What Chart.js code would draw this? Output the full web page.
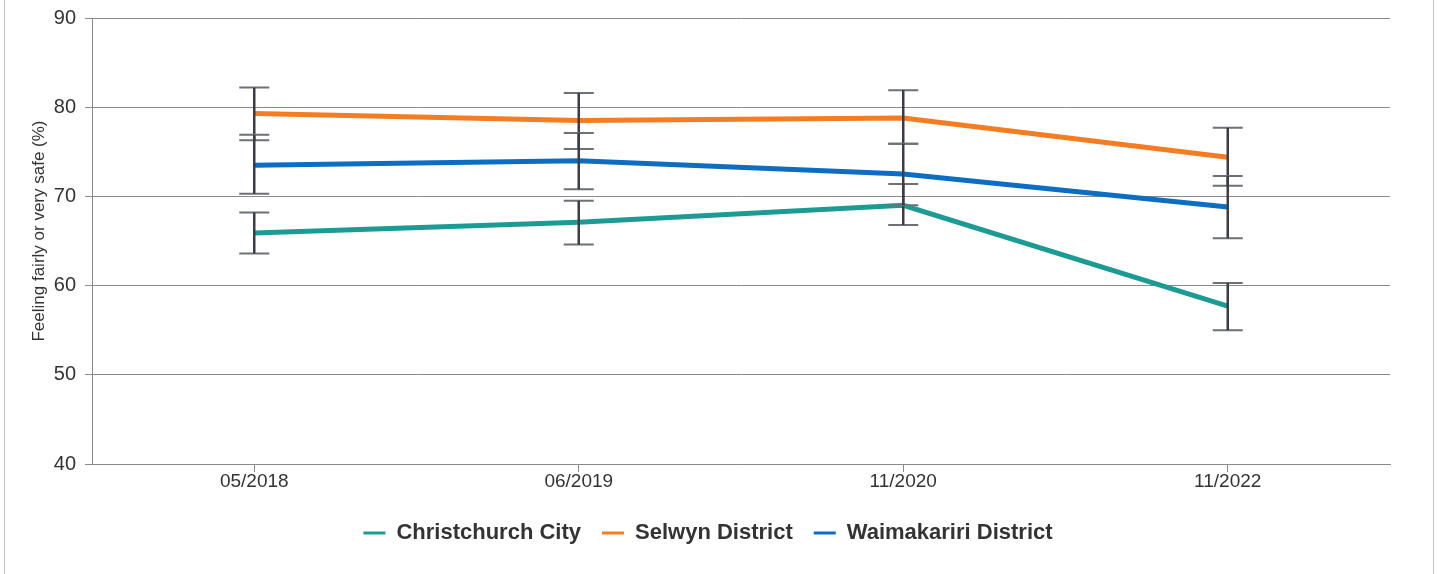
<!DOCTYPE html>
<html>
<head>
<meta charset="utf-8">
<script src="https://cdn.jsdelivr.net/npm/chart.js@4.4.1/dist/chart.umd.min.js"></script>
<style>
  html, body { margin: 0; padding: 0; background: #fff; }
  #wrap { position: relative; width: 1438px; height: 574px; }
  #frame {
    position: absolute; left: 4px; top: 0; width: 1428px; height: 574px;
    border-left: 1px solid #c4c4c4; border-right: 1px solid #c4c4c4;
    pointer-events: none;
  }
</style>
</head>
<body>
<div id="wrap">
  <canvas id="safetyChart" width="1438" height="574"></canvas>
  <div id="frame"></div>
</div>
<script>
// ====================================
// DATA
// ====================================
const surveyDates = ["05/2018", "06/2019", "11/2020", "11/2022"];

const christchurch = [65.9, 67.1, 69.0, 57.7];
const christchurchLow = [63.6, 64.6, 66.8, 55.0];
const christchurchHigh = [68.2, 69.5, 71.4, 60.3];

const selwyn = [79.3, 78.5, 78.8, 74.4];
const selwynLow = [76.3, 75.3, 75.9, 71.2];
const selwynHigh = [82.2, 81.6, 81.9, 77.7];

const waimakariri = [73.5, 74.0, 72.5, 68.8];
const waimakaririLow = [70.3, 70.8, 69.0, 65.3];
const waimakaririHigh = [76.9, 77.1, 75.9, 72.3];

const yTicks = [40, 50, 60, 70, 80, 90];
const yTitle = "Feeling fairly or very safe (%)";

const FONT = "'Liberation Sans', Arial, sans-serif";

// ====================================
// ERROR BARS PLUGIN
// ====================================
const errorBars = {
  id: "errorBars",
  afterDatasetsDraw(chart) {
    const ctx = chart.ctx;
    const xScale = chart.scales.x;
    const yScale = chart.scales.y;
    chart.data.datasets.forEach(function (ds) {
      ds.data.forEach(function (v, i) {
        const x = xScale.getPixelForValue(i);
        const yLo = yScale.getPixelForValue(ds.errLow[i]);
        const yHi = yScale.getPixelForValue(ds.errHigh[i]);
        ctx.save();
        ctx.strokeStyle = "#6e7078";
        ctx.lineWidth = 2;
        ctx.beginPath();
        ctx.moveTo(x - 15, yHi);
        ctx.lineTo(x + 15, yHi);
        ctx.moveTo(x - 15, yLo);
        ctx.lineTo(x + 15, yLo);
        ctx.stroke();
        ctx.strokeStyle = "#3a3d46";
        ctx.lineWidth = 2.5;
        ctx.beginPath();
        ctx.moveTo(x, yHi);
        ctx.lineTo(x, yLo);
        ctx.stroke();
        ctx.restore();
      });
    });
  },
};

// Y axis title, drawn a bit above the axis middle like the original
const axisTitle = {
  id: "axisTitle",
  afterDraw(chart) {
    const ctx = chart.ctx;
    const area = chart.chartArea;
    ctx.save();
    ctx.translate(39, (area.top + area.bottom) / 2 - 10);
    ctx.rotate(-Math.PI / 2);
    ctx.fillStyle = "#333333";
    ctx.font = "17px " + FONT;
    ctx.textAlign = "center";
    ctx.textBaseline = "middle";
    ctx.fillText(yTitle, 0, 0);
    ctx.restore();
  },
};

// ====================================
// CHART
// ====================================
const ctx = document.getElementById("safetyChart").getContext("2d");

new Chart(ctx, {
  type: "line",
  data: {
    labels: surveyDates,
    datasets: [
      {
        label: "Christchurch City",
        data: christchurch,
        errLow: christchurchLow,
        errHigh: christchurchHigh,
        borderColor: "#1c9b95",
        backgroundColor: "#1c9b95",
      },
      {
        label: "Selwyn District",
        data: selwyn,
        errLow: selwynLow,
        errHigh: selwynHigh,
        borderColor: "#f47c22",
        backgroundColor: "#f47c22",
      },
      {
        label: "Waimakariri District",
        data: waimakariri,
        errLow: waimakaririLow,
        errHigh: waimakaririHigh,
        borderColor: "#0c6dc2",
        backgroundColor: "#0c6dc2",
      },
    ],
  },
  options: {
    responsive: false,
    animation: false,
    devicePixelRatio: 1,
    elements: {
      line: { borderWidth: 5, tension: 0 },
      point: { radius: 0 },
    },
    layout: {
      padding: { left: 26, right: 48, top: 18, bottom: 20 },
    },
    plugins: {
      tooltip: { enabled: false },
      legend: {
        position: "bottom",
        labels: {
          color: "#333333",
          font: { family: FONT, size: 22, weight: "bold" },
          boxWidth: 22,
          boxHeight: 3,
          padding: 21,
          generateLabels: function (chart) {
            return Chart.defaults.plugins.legend.labels
              .generateLabels(chart)
              .map(function (item) {
                item.lineWidth = 0;
                return item;
              });
          },
        },
      },
    },
    scales: {
      x: {
        offset: true,
        afterFit: function (scale) {
          scale.height = 37;
        },
        grid: {
          drawOnChartArea: false,
          drawTicks: true,
          tickLength: 8,
          color: "#8a8a8a",
        },
        border: { color: "#8a8a8a" },
        ticks: {
          color: "#333333",
          padding: 0,
          maxRotation: 0,
          font: { family: FONT, size: 19, lineHeight: 1 },
        },
      },
      y: {
        min: 40,
        max: 90,
        afterFit: function (scale) {
          scale.width = 66;
          scale.paddingTop = 0;
          scale.paddingBottom = 0;
        },
        afterBuildTicks: function (scale) {
          scale.ticks = yTicks.map(function (v) {
            return { value: v };
          });
        },
        grid: {
          color: "#8a8a8a",
          tickLength: 7,
        },
        border: { color: "#8a8a8a" },
        ticks: {
          color: "#333333",
          padding: 9,
          font: { family: FONT, size: 20 },
        },
      },
    },
  },
  plugins: [errorBars, axisTitle],
});
</script>
</body>
</html>
